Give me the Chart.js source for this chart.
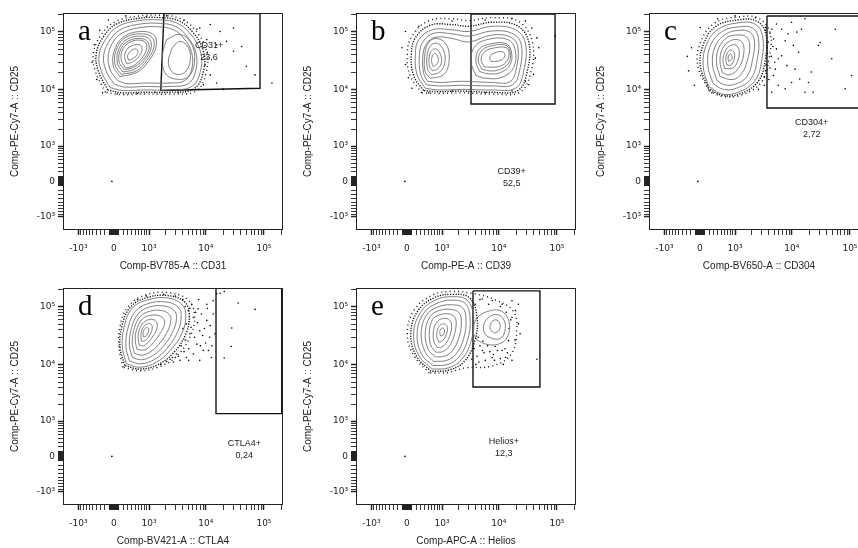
<!DOCTYPE html>
<html>
<head>
<meta charset="utf-8">
<script src="https://cdn.jsdelivr.net/npm/chart.js@4.4.1/dist/chart.umd.min.js"></script>
<style>
  body { margin: 0; background: #fff; width: 858px; height: 548px; overflow: hidden; position: relative; }
  canvas { position: absolute; }
</style>
</head>
<body>
<canvas id="pa" width="290" height="274" style="left:0;top:0"></canvas>
<canvas id="pb" width="290" height="274" style="left:293px;top:0"></canvas>
<canvas id="pc" width="290" height="274" style="left:586px;top:0"></canvas>
<canvas id="pd" width="290" height="274" style="left:0;top:275px"></canvas>
<canvas id="pe" width="290" height="274" style="left:293px;top:275px"></canvas>
<script>
// axis decades (biexponential display), labels as printed
var tickValues = [-1000, 0, 1000, 10000, 100000];
var tickLabels = ['-10³', '0', '10³', '10⁴', '10⁵'];
var yTitle = 'Comp-PE-Cy7-A :: CD25';
var xTitles = ['Comp-BV785-A :: CD31', 'Comp-PE-A :: CD39', 'Comp-BV650-A :: CD304', 'Comp-BV421-A :: CTLA4', 'Comp-APC-A :: Helios'];
var panelLetters = ['a', 'b', 'c', 'd', 'e'];
var gateNames = ['CD31+', 'CD39+', 'CD304+', 'CTLA4+', 'Helios+'];
var gatePercents = ['23,6', '52,5', '2,72', '0,24', '12,3'];
// label anchor per gate, display units
var gateLabelAt = [[4.03, 4.73], [4.195, 2.56], [4.315, 3.405], [4.635, 2.61], [4.06, 2.65]];

// gates (display units, ~log10 of intensity)
var gateA = [[3.255, 5.29], [3.20, 3.96], [4.905, 4.00], [4.905, 5.29], [3.255, 5.29]];
var gateB = [[3.496, 5.283], [3.496, 3.728], [4.94, 3.728], [4.94, 5.283], [3.496, 5.283]];
var gateC = [[3.547, 5.248], [3.547, 3.659], [5.25, 3.659], [5.25, 5.248], [3.547, 5.248]];
var gateD = [[4.149, 5.295], [4.149, 3.129], [5.278, 3.129], [5.278, 5.295], [4.149, 5.295]];
var gateE = [[3.53, 5.25], [3.53, 3.59], [4.68, 3.59], [4.68, 5.25], [3.53, 5.25]];

// contour rings
var contoursA = [
  [[2.33,4.01],[2.18,4.29],[2.14,4.58],[2.27,4.87],[2.47,5.07],[2.84,5.17],[3.19,5.18],[3.47,5.13],[3.70,4.95],[3.88,4.64],[3.88,4.29],[3.73,4.03],[3.36,3.97],[2.90,3.97],[2.56,3.96]],
  [[2.40,4.07],[2.26,4.30],[2.22,4.58],[2.34,4.85],[2.52,5.02],[2.85,5.11],[3.19,5.12],[3.45,5.07],[3.64,4.91],[3.80,4.63],[3.80,4.30],[3.67,4.08],[3.36,4.03],[2.90,4.03],[2.58,4.02]],
  [[2.46,4.13],[2.33,4.32],[2.30,4.58],[2.40,4.83],[2.57,4.97],[2.86,5.05],[3.18,5.06],[3.42,5.01],[3.59,4.87],[3.73,4.62],[3.73,4.32],[3.61,4.13],[3.34,4.09],[2.92,4.09],[2.62,4.08]],
  [[2.50,4.20],[2.38,4.40],[2.42,4.70],[2.58,4.90],[2.85,4.98],[3.08,4.92],[3.12,4.72],[3.00,4.48],[2.80,4.28]],
  [[2.52,4.24],[2.41,4.42],[2.45,4.70],[2.60,4.88],[2.85,4.94],[3.05,4.88],[3.08,4.70],[2.96,4.48],[2.78,4.30]],
  [[2.55,4.28],[2.45,4.45],[2.49,4.70],[2.63,4.85],[2.85,4.90],[3.01,4.84],[3.03,4.68],[2.92,4.48],[2.75,4.33]],
  [[2.57,4.32],[2.48,4.47],[2.52,4.69],[2.65,4.82],[2.85,4.86],[2.98,4.80],[2.99,4.65],[2.88,4.48],[2.73,4.36]],
  [[2.59,4.35],[2.52,4.50],[2.55,4.68],[2.68,4.80],[2.85,4.83],[2.95,4.77],[2.94,4.63],[2.84,4.48],[2.71,4.38]],
  [[2.62,4.42],[2.58,4.53],[2.61,4.66],[2.72,4.74],[2.84,4.75],[2.88,4.68],[2.84,4.57],[2.74,4.47]],
  [[2.65,4.48],[2.63,4.56],[2.68,4.64],[2.77,4.68],[2.81,4.63],[2.76,4.54]],
  [[3.30,4.84],[3.53,4.93],[3.72,4.78],[3.78,4.46],[3.67,4.20],[3.44,4.16],[3.27,4.27],[3.23,4.58]],
  [[3.39,4.69],[3.53,4.81],[3.68,4.69],[3.70,4.44],[3.59,4.26],[3.42,4.26],[3.33,4.44]]
];
var haloA = [
  [[2.29,3.97],[2.13,4.29],[2.09,4.59],[2.22,4.90],[2.44,5.11],[2.84,5.21],[3.19,5.22],[3.50,5.17],[3.74,4.98],[3.93,4.65],[3.93,4.28],[3.77,3.99],[3.36,3.93],[2.90,3.93],[2.54,3.92]],
  [[2.25,3.93],[2.08,4.28],[2.04,4.60],[2.18,4.93],[2.42,5.15],[2.84,5.25],[3.20,5.26],[3.52,5.21],[3.78,5.02],[3.98,4.66],[3.98,4.27],[3.80,3.95],[3.36,3.90],[2.90,3.90],[2.52,3.89]]
];
var dotsA = [[3.99,4.84],[4.16,4.75],[4.33,4.81],[4.45,4.64],[4.59,4.72],[4.67,4.38],[4.82,4.23],[4.05,4.23],[4.16,4.09],[4.27,3.98],[3.93,4.06],[3.87,5.04],[4.05,5.10],[4.22,4.98],[4.45,5.04],[5.11,4.09],[2.36,2.39],
  [2.02,4.45],[2.06,4.75],[2.15,5.00],[2.30,5.18],[2.60,5.25],[2.95,5.24],[3.30,5.25],[3.60,5.18],[3.82,5.02],[2.10,4.15],[2.20,3.92],[2.45,3.90],[2.80,3.91],[3.10,3.93],[3.50,3.93],[3.85,3.98],[3.96,4.40],[4.00,4.62]];

var contoursB = [
  [[2.71,4.00],[2.57,4.23],[2.54,4.58],[2.60,4.84],[2.83,5.01],[3.17,5.01],[3.46,4.98],[3.86,5.07],[4.26,5.01],[4.43,4.78],[4.40,4.29],[4.26,4.00],[3.86,3.97],[3.34,3.98],[2.94,3.97]],
  [[2.73,4.06],[2.63,4.24],[2.61,4.58],[2.67,4.80],[2.86,4.95],[3.17,4.94],[3.46,4.90],[3.86,4.99],[4.22,4.94],[4.36,4.75],[4.33,4.30],[4.21,4.06],[3.86,4.04],[3.34,4.05],[2.96,4.04]],
  [[2.75,4.12],[2.68,4.27],[2.67,4.57],[2.73,4.76],[2.88,4.88],[3.17,4.86],[3.46,4.80],[3.86,4.92],[4.18,4.88],[4.30,4.72],[4.27,4.32],[4.16,4.11],[3.86,4.10],[3.34,4.12],[2.97,4.10]],
  [[2.80,4.17],[2.71,4.28],[2.70,4.55],[2.76,4.78],[2.90,4.86],[3.07,4.76],[3.12,4.48],[3.03,4.24]],
  [[2.82,4.23],[2.75,4.33],[2.74,4.55],[2.79,4.72],[2.89,4.78],[3.01,4.69],[3.05,4.47],[2.97,4.29]],
  [[2.83,4.30],[2.78,4.39],[2.78,4.55],[2.82,4.65],[2.89,4.68],[2.96,4.61],[2.99,4.46],[2.93,4.34]],
  [[2.85,4.37],[2.82,4.45],[2.83,4.55],[2.87,4.60],[2.92,4.56],[2.93,4.45]],
  [[3.58,4.22],[3.50,4.45],[3.56,4.72],[3.82,4.85],[4.13,4.84],[4.25,4.68],[4.23,4.36],[4.03,4.19],[3.76,4.17]],
  [[3.64,4.29],[3.58,4.48],[3.64,4.68],[3.85,4.77],[4.10,4.77],[4.19,4.63],[4.17,4.41],[4.00,4.27],[3.79,4.25]],
  [[3.68,4.33],[3.62,4.49],[3.69,4.66],[3.88,4.74],[4.10,4.74],[4.17,4.62],[4.14,4.43],[3.98,4.32],[3.82,4.30]],
  [[3.72,4.37],[3.67,4.50],[3.74,4.64],[3.92,4.70],[4.10,4.70],[4.15,4.60],[4.10,4.45],[3.95,4.37]],
  [[3.84,4.46],[3.82,4.54],[3.90,4.61],[4.04,4.63],[4.08,4.56],[4.00,4.48]]
];
var haloB = [
  [[2.68,3.96],[2.51,4.22],[2.47,4.58],[2.54,4.87],[2.80,5.09],[3.17,5.10],[3.46,5.07],[3.86,5.14],[4.29,5.08],[4.49,4.79],[4.46,4.28],[4.30,3.96],[3.86,3.93],[3.34,3.95],[2.94,3.94]],
  [[2.65,3.92],[2.45,4.22],[2.40,4.58],[2.48,4.90],[2.78,5.17],[3.17,5.20],[3.46,5.17],[3.86,5.22],[4.32,5.15],[4.55,4.80],[4.52,4.26],[4.33,3.93],[3.86,3.90],[3.34,3.92],[2.94,3.91]]
];
var dotsB = [[4.54,5.04],[4.63,4.87],[4.60,4.52],[4.57,4.24],[4.49,4.06],[4.66,4.70],[4.94,4.90],[4.43,5.16],[4.20,5.21],[3.74,5.18],[3.17,5.16],[2.60,5.07],[2.37,4.98],[2.31,4.70],[2.37,4.41],[2.42,4.18],[2.48,4.00],[2.77,3.92],[3.17,3.95],[3.74,3.92],[4.20,3.95],[4.43,4.12],[2.36,2.39]];

var contoursC = [
  [[2.54,4.04],[2.45,4.39],[2.51,4.76],[2.71,5.02],[3.05,5.13],[3.34,5.11],[3.47,4.91],[3.46,4.50],[3.34,4.13],[3.05,3.93],[2.77,3.90]],
  [[2.62,4.08],[2.53,4.40],[2.58,4.75],[2.78,4.98],[3.06,5.06],[3.30,5.04],[3.40,4.87],[3.38,4.50],[3.27,4.16],[3.02,4.00],[2.80,3.98]],
  [[2.69,4.13],[2.61,4.42],[2.66,4.73],[2.83,4.93],[3.06,5.00],[3.25,4.97],[3.33,4.83],[3.30,4.50],[3.20,4.20],[3.00,4.07],[2.82,4.06]],
  [[2.74,4.20],[2.68,4.44],[2.72,4.70],[2.87,4.88],[3.05,4.92],[3.19,4.89],[3.25,4.75],[3.21,4.48],[3.11,4.25],[2.96,4.15]],
  [[2.78,4.27],[2.74,4.46],[2.78,4.68],[2.90,4.81],[3.04,4.84],[3.13,4.78],[3.15,4.62],[3.10,4.42],[3.00,4.28],[2.88,4.23]],
  [[2.82,4.34],[2.79,4.48],[2.83,4.64],[2.92,4.74],[3.02,4.74],[3.07,4.64],[3.04,4.46],[2.96,4.35]],
  [[2.86,4.40],[2.84,4.50],[2.87,4.62],[2.94,4.66],[2.99,4.60],[2.97,4.46],[2.92,4.40]],
  [[2.89,4.46],[2.88,4.54],[2.92,4.59],[2.95,4.52]]
];
var haloC = [
  [[2.54,4.00],[2.40,4.39],[2.46,4.77],[2.67,5.07],[3.05,5.18],[3.37,5.16],[3.53,4.93],[3.52,4.50],[3.39,4.11],[3.07,3.90],[2.77,3.88]],
  [[2.55,3.96],[2.36,4.38],[2.40,4.78],[2.64,5.12],[3.05,5.23],[3.40,5.21],[3.60,4.95],[3.58,4.50],[3.45,4.10],[3.10,3.88],[2.78,3.86]]
];
var dotsC = [[3.63,5.02],[3.66,4.85],[3.71,4.68],[3.74,4.51],[3.69,4.33],[3.66,4.22],[3.74,4.05],[3.80,5.02],[3.86,4.82],[3.91,4.94],[3.97,5.14],[4.00,4.74],[4.06,4.97],[4.09,4.62],[4.14,5.02],[4.20,5.20],[4.26,4.10],[4.31,4.28],[4.34,3.93],[4.43,4.74],[4.46,4.79],[4.66,4.51],[4.72,5.02],[4.89,3.99],[5.00,4.22],[3.86,3.99],[3.97,4.10],[4.11,4.16],[4.20,3.93],[3.63,3.93],[3.71,5.11],[3.80,4.56],[3.89,4.39],[4.03,4.33],
  [2.20,4.30],[2.25,4.70],[2.40,5.05],[2.70,5.20],[3.00,5.25],[3.35,5.22],[3.52,5.05],[3.55,4.70],[3.52,4.30],[3.40,3.98],[2.60,3.92],[2.30,4.05],[2.18,4.55],[2.36,2.39],
  [3.50,4.20],[3.53,4.40],[3.55,4.60],[3.57,4.80],[3.52,5.00],[3.60,4.35],[3.62,4.55],[3.58,4.15],[3.65,4.72],[3.60,4.95],[3.68,4.45],[3.50,4.05]];

var contoursD = [
  [[2.61,3.99],[2.54,4.28],[2.57,4.62],[2.70,4.94],[2.96,5.09],[3.30,5.13],[3.56,5.02],[3.63,4.82],[3.56,4.51],[3.36,4.22],[3.13,4.02],[2.84,3.93]],
  [[2.66,4.04],[2.60,4.30],[2.64,4.62],[2.76,4.89],[2.98,5.03],[3.28,5.06],[3.50,4.97],[3.55,4.80],[3.48,4.52],[3.30,4.25],[3.10,4.07],[2.86,3.99]],
  [[2.71,4.10],[2.66,4.32],[2.70,4.62],[2.81,4.85],[3.00,4.97],[3.25,4.99],[3.43,4.91],[3.47,4.77],[3.40,4.53],[3.24,4.29],[3.06,4.13],[2.87,4.06]],
  [[2.75,4.17],[2.71,4.36],[2.75,4.62],[2.85,4.81],[3.02,4.90],[3.21,4.91],[3.35,4.84],[3.37,4.72],[3.30,4.52],[3.16,4.32],[3.01,4.19],[2.87,4.14]],
  [[2.79,4.24],[2.76,4.42],[2.80,4.62],[2.89,4.77],[3.03,4.83],[3.17,4.82],[3.26,4.75],[3.25,4.63],[3.16,4.47],[3.04,4.32],[2.92,4.23]],
  [[2.83,4.31],[2.81,4.46],[2.85,4.62],[2.93,4.72],[3.04,4.76],[3.12,4.72],[3.14,4.63],[3.08,4.49],[2.98,4.36],[2.90,4.30]],
  [[2.87,4.38],[2.86,4.50],[2.90,4.62],[2.97,4.68],[3.04,4.67],[3.05,4.58],[3.00,4.47],[2.93,4.39]],
  [[2.90,4.46],[2.90,4.55],[2.94,4.61],[2.99,4.60],[2.98,4.52],[2.94,4.46]]
];
var haloD = [
  [[2.58,3.96],[2.50,4.28],[2.53,4.63],[2.67,4.96],[2.95,5.13],[3.31,5.17],[3.61,5.06],[3.69,4.82],[3.62,4.48],[3.40,4.16],[3.14,3.97],[2.84,3.90]],
  [[2.55,3.93],[2.48,4.28],[2.50,4.64],[2.64,4.98],[2.94,5.18],[3.32,5.22],[3.66,5.10],[3.78,4.82],[3.70,4.45],[3.45,4.10],[3.15,3.93],[2.85,3.87]]
];
var dotsD = [[3.64,4.68],[3.70,4.51],[3.76,4.79],[3.82,4.33],[3.87,4.56],[3.93,4.22],[3.99,4.74],[4.04,4.45],[4.07,4.10],[3.87,4.05],[3.76,4.16],[3.64,4.10],[3.53,4.05],[3.42,4.02],[3.36,4.07],[3.47,4.16],[3.67,4.91],[3.73,5.02],[3.84,4.94],[3.99,5.02],[4.10,4.85],[4.02,4.22],[4.13,4.51],[4.16,5.20],[4.10,5.08],
  [4.22,5.21],[4.29,5.24],[4.53,5.04],[4.82,4.93],[4.42,4.61],[4.41,4.29],[4.29,4.09],[2.36,2.39],
  [3.58,4.60],[3.62,4.40],[3.68,4.25],[3.72,4.62],[3.78,4.45],[3.80,4.88],[3.83,4.70],[3.88,4.30],[3.90,4.85],[3.92,4.48],[3.95,4.60],[3.97,4.35],[4.00,4.95],[4.05,4.65],[4.08,4.30],[3.60,4.20],[3.55,4.30],[3.50,4.12],[3.40,4.10],[3.30,4.03],[3.20,3.98],[3.70,4.95],[3.62,4.98],[3.58,5.10],[3.45,5.16],[3.25,5.19],[2.95,5.16],[2.80,5.10],[3.85,5.10],[3.68,4.05]];

var contoursE = [
  [[2.83,3.90],[2.60,4.13],[2.51,4.51],[2.63,4.88],[2.88,5.09],[3.17,5.15],[3.43,5.09],[3.54,4.79],[3.50,4.39],[3.34,4.07],[3.11,3.92]],
  [[2.84,3.96],[2.65,4.15],[2.57,4.51],[2.68,4.86],[2.90,5.03],[3.17,5.09],[3.40,5.03],[3.48,4.78],[3.44,4.41],[3.29,4.11],[3.10,3.98]],
  [[2.86,4.03],[2.71,4.19],[2.64,4.52],[2.73,4.83],[2.92,4.97],[3.16,5.01],[3.35,4.96],[3.41,4.76],[3.37,4.43],[3.24,4.16],[3.08,4.05]],
  [[2.88,4.11],[2.76,4.24],[2.71,4.53],[2.79,4.80],[2.95,4.91],[3.15,4.93],[3.29,4.87],[3.33,4.72],[3.29,4.45],[3.18,4.22],[3.04,4.12]],
  [[2.90,4.19],[2.81,4.30],[2.78,4.54],[2.84,4.76],[2.97,4.84],[3.13,4.85],[3.22,4.79],[3.24,4.66],[3.20,4.46],[3.12,4.29],[3.01,4.20]],
  [[2.92,4.27],[2.86,4.37],[2.85,4.55],[2.90,4.70],[3.00,4.77],[3.11,4.76],[3.16,4.68],[3.14,4.50],[3.07,4.35],[2.99,4.28]],
  [[2.95,4.36],[2.91,4.45],[2.92,4.58],[2.97,4.66],[3.04,4.68],[3.09,4.62],[3.07,4.49],[3.02,4.40]],
  [[2.97,4.47],[2.96,4.55],[3.00,4.61],[3.04,4.58],[3.02,4.49]],
  [[3.60,4.40],[3.53,4.55],[3.60,4.78],[3.80,4.90],[4.02,4.90],[4.15,4.72],[4.12,4.45],[3.97,4.33],[3.75,4.33]],
  [[3.88,4.42],[3.74,4.50],[3.72,4.68],[3.84,4.82],[3.98,4.83],[4.08,4.70],[4.06,4.50],[3.98,4.42]],
  [[3.90,4.52],[3.83,4.58],[3.84,4.70],[3.92,4.75],[3.99,4.69],[3.98,4.57]]
];
var haloE = [
  [[2.81,3.86],[2.56,4.12],[2.46,4.51],[2.58,4.90],[2.86,5.13],[3.17,5.19],[3.47,5.13],[3.60,4.79],[3.56,4.38],[3.38,4.03],[3.11,3.88]],
  [[2.78,3.83],[2.52,4.12],[2.40,4.50],[2.52,4.92],[2.84,5.18],[3.18,5.24],[3.55,5.20],[3.90,5.10],[4.22,4.90],[4.28,4.55],[4.18,4.15],[3.85,3.95],[3.40,3.92],[3.10,3.84]]
];
var dotsE = [[4.20,5.08],[4.26,4.91],[4.31,4.68],[4.14,4.39],[4.03,4.22],[3.86,4.10],[3.74,4.05],[3.63,4.02],[3.51,4.07],[3.69,4.22],[3.91,4.29],[4.09,4.10],[4.20,4.05],[3.57,5.02],[3.69,5.11],[3.86,5.08],[4.03,5.02],[4.31,5.02],[4.34,4.51],[4.63,4.07],[4.20,4.79],[2.36,2.39],
  [3.55,4.25],[3.60,4.12],[3.65,4.30],[3.72,4.18],[3.78,4.30],[3.82,4.20],[3.88,4.15],[3.95,4.22],[4.00,4.08],[4.08,4.25],[4.12,4.18],[3.70,4.38],[3.62,4.45],[4.15,4.60],[4.18,4.75],[4.10,4.88],[4.00,4.98],[3.80,5.02],[3.65,5.10],[4.25,4.40],[3.58,3.98],[3.90,4.05],[4.05,3.98]];

var panels = [
  { id: 'pa', contours: contoursA, halo: haloA, dots: dotsA, gate: gateA },
  { id: 'pb', contours: contoursB, halo: haloB, dots: dotsB, gate: gateB },
  { id: 'pc', contours: contoursC, halo: haloC, dots: dotsC, gate: gateC },
  { id: 'pd', contours: contoursD, halo: haloD, dots: dotsD, gate: gateD },
  { id: 'pe', contours: contoursE, halo: haloE, dots: dotsE, gate: gateE }
];

// biexponential-like display transform used for the tick marks
function logicle(v) {
  return 3 + (Math.asinh(v / 526) - Math.asinh(1000 / 526)) / Math.LN10;
}

var minorTicks = [];
[10, 100].forEach(function (s) {
  for (var k = 1; k <= 9; k++) { minorTicks.push(k * s, -k * s); }
});
[1000, 10000].forEach(function (s) {
  for (var k = 2; k <= 9; k++) { minorTicks.push(k * s); }
});
minorTicks.push(200000);
var allTicks = tickValues.concat(minorTicks);

var sans = "'Liberation Sans', Arial, sans-serif";
var tickFont = "'DejaVu Sans', 'Liberation Sans', sans-serif";

function pts(list) {
  return list.map(function (p) { return { x: p[0], y: p[1] }; });
}
function closed(ring) {
  return pts(ring.concat([ring[0]]));
}

function axis(pos, min, max, title, titlePad, size, labelPad) {
  return {
    type: 'linear', position: pos, min: min, max: max,
    afterBuildTicks: function (s) {
      s.ticks = allTicks.map(function (v) { return { value: logicle(v), major: tickValues.indexOf(v) >= 0 }; });
    },
    afterFit: function (s) {
      if (pos === 'left') { s.width = size; } else { s.height = size; }
    },
    ticks: {
      autoSkip: false, maxRotation: 0, minRotation: 0, padding: labelPad, color: '#222',
      font: { family: tickFont, size: 9 },
      callback: function (val) {
        for (var i = 0; i < tickValues.length; i++) {
          if (Math.abs(logicle(tickValues[i]) - val) < 1e-6) { return tickLabels[i]; }
        }
        return '';
      }
    },
    grid: {
      drawOnChartArea: false, drawTicks: true, tickLength: 5, tickColor: '#222',
      tickWidth: function (c) { return c.tick && c.tick.major ? 1.5 : 0.9; }
    },
    border: { display: false },
    title: {
      display: true, text: title, color: '#222',
      font: { family: sans, size: 10 },
      padding: titlePad
    }
  };
}

var framePlugin = {
  id: 'frame',
  afterDatasetsDraw: function (chart, args, opts) {
    var ctx = chart.ctx, a = chart.chartArea, sx = chart.scales.x, sy = chart.scales.y;
    ctx.save();
    ctx.strokeStyle = '#222';
    ctx.lineWidth = 1;
    ctx.strokeRect(a.left + 0.5, a.top + 0.5, a.right - a.left - 1, a.bottom - a.top - 1);
    ctx.fillStyle = '#000';
    ctx.font = "29px 'Liberation Serif', 'Times New Roman', serif";
    ctx.textBaseline = 'alphabetic';
    ctx.fillText(panelLetters[opts.idx], a.left + 15, a.top + 27);
    ctx.font = '9px ' + sans;
    ctx.fillStyle = '#222';
    ctx.textAlign = 'center';
    ctx.textBaseline = 'middle';
    var at = gateLabelAt[opts.idx];
    var px = sx.getPixelForValue(at[0]), py = sy.getPixelForValue(at[1]);
    ctx.fillText(gateNames[opts.idx], px, py);
    ctx.fillText(gatePercents[opts.idx], px, py + 12);
    ctx.restore();
  }
};

panels.forEach(function (p, idx) {
  var sets = [];
  p.halo.forEach(function (ring, k) {
    sets.push({ data: closed(ring), showLine: true, borderColor: '#111', borderWidth: 1.4,
      borderDash: k === 0 ? [1.2, 1.4] : [1, 3.2], tension: 0.4, pointRadius: 0 });
  });
  p.contours.forEach(function (ring) {
    sets.push({ data: closed(ring), showLine: true, borderColor: '#6a6a6a', borderWidth: 0.85,
      tension: 0.4, pointRadius: 0 });
  });
  sets.push({ data: pts(p.dots), showLine: false, pointRadius: 0.8, pointBorderWidth: 0,
    backgroundColor: '#000', pointBackgroundColor: '#000' });
  sets.push({ data: pts(p.gate), showLine: true, borderColor: '#111', borderWidth: 1.4,
    tension: 0, pointRadius: 0 });

  new Chart(document.getElementById(p.id).getContext('2d'), {
    type: 'scatter',
    data: { datasets: sets },
    options: {
      responsive: false,
      animation: false,
      layout: { padding: { left: 0, top: 13, right: 7, bottom: 0 } },
      plugins: { legend: { display: false }, tooltip: { enabled: false }, frame: { idx: idx } },
      scales: {
        x: axis('bottom', 1.52, 5.30, xTitles[idx], { top: 0, bottom: 2 }, 44, 8),
        y: axis('left', 1.55, 5.30, yTitle, { top: 9, bottom: 0 }, 63, 3)
      }
    },
    plugins: [framePlugin]
  });
});
</script>
</body>
</html>
